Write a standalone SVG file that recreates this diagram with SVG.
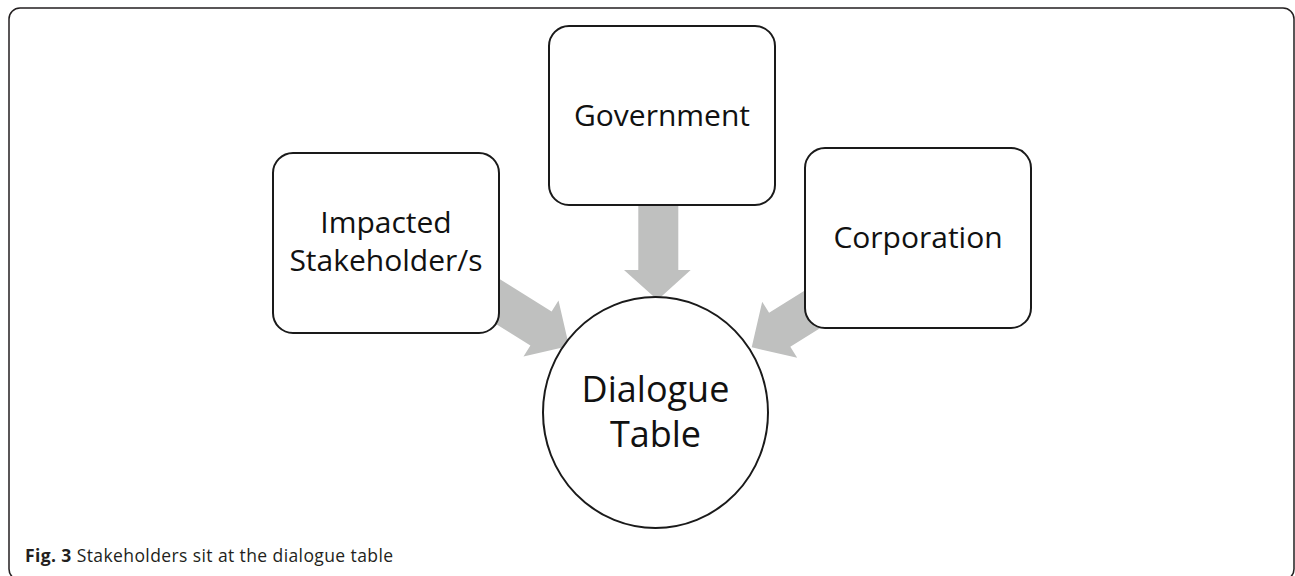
<svg xmlns="http://www.w3.org/2000/svg" width="1295" height="576" viewBox="0 0 1295 576">
  <style>
    .frame { fill: #ffffff; stroke: #231f20; stroke-width: 1.5; }
    .box { fill: #ffffff; stroke: #1a1a1a; stroke-width: 2; }
    .arrow { fill: #bfc0bf; stroke: none; }
    .lbl { font-family: "Open Sans", "DejaVu Sans", sans-serif; font-size: 30px; fill: #111111; text-anchor: middle; }
    .big { font-size: 36px; }
    .cap { font-family: "Open Sans", "Liberation Sans", sans-serif; font-size: 17.5px; letter-spacing: 0.4px; fill: #231f20; }
  </style>
  <rect class="frame" x="9" y="8" width="1285" height="572" rx="11" ry="11"/>
  <g id="connectors">
    <polygon class="arrow" points="477.8,265.4 551.6,311.5 558.5,300.5 569,346 523.5,356.5 530.4,345.5 456.6,299.4"/>
    <polygon class="arrow" points="638.3,180 678.3,180 678.3,270 690.7,270 657.5,300 624,270 638.3,270"/>
    <polygon class="arrow" points="842.9,266.7 769.1,312.8 762.2,301.8 751.7,347.3 797.2,357.8 790.3,346.8 864.1,300.7"/>
  </g>
  <g id="impacted">
    <rect class="box" x="273" y="153" width="226" height="180" rx="20" ry="20"/>
    <text class="lbl" x="386" y="233">Impacted</text>
    <text class="lbl" x="386" y="271">Stakeholder/s</text>
  </g>
  <g id="government">
    <rect class="box" x="549" y="26" width="226" height="179" rx="20" ry="20"/>
    <text class="lbl" x="662" y="126">Government</text>
  </g>
  <g id="corporation">
    <rect class="box" x="805" y="148" width="226" height="180" rx="20" ry="20"/>
    <text class="lbl" x="918" y="248">Corporation</text>
  </g>
  <g id="dialogue">
    <ellipse class="box" cx="655.5" cy="412.5" rx="112.5" ry="115.5"/>
    <text class="lbl big" x="655.5" y="402">Dialogue</text>
    <text class="lbl big" x="655.5" y="447">Table</text>
  </g>
  <text class="cap" x="25" y="562"><tspan font-weight="bold">Fig. 3</tspan> Stakeholders sit at the dialogue table</text>
</svg>
